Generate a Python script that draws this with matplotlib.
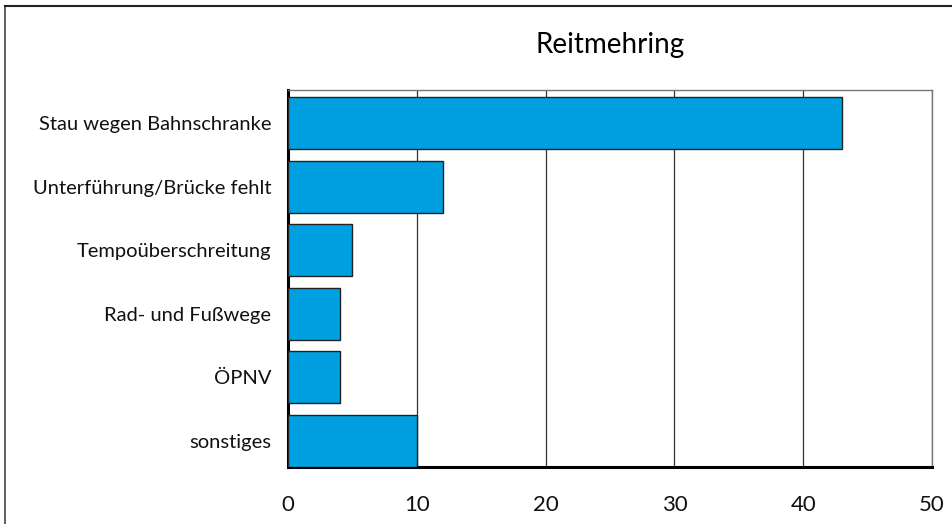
import matplotlib
matplotlib.use("Agg")
import matplotlib.pyplot as plt
from matplotlib.lines import Line2D

categories = ["Stau wegen Bahnschranke", "Unterführung/Brücke fehlt", "Tempoüberschreitung",
              "Rad- und Fußwege", "ÖPNV", "sonstiges"]
values = [43, 12, 5, 4, 4, 10]
xticks = [0, 10, 20, 30, 40, 50]
title = "Reitmehring"

plt.rcParams['font.family'] = ['Lato', 'DejaVu Sans']

W, H = 953, 524
fig = plt.figure(figsize=(W / 100, H / 100), dpi=100)
ax = fig.add_axes([288 / W, 1 - 467 / H, (932 - 288) / W, (467 - 90) / H])

ypos = list(range(len(categories)))
ax.barh(ypos, values, height=0.82, color="#00A0E0", edgecolor="#222222", linewidth=1.0, zorder=3)
ax.set_ylim(5.41, -0.52)
ax.set_xlim(0, 50)
ax.set_xticks(xticks)
ax.set_xticklabels([str(t) for t in xticks], fontsize=16, fontweight="normal", color="#111111")
ax.set_yticks(ypos)
ax.set_yticklabels(categories, fontsize=14.5, fontweight="normal", color="#111111")
ax.tick_params(axis='both', length=0)
ax.tick_params(axis='x', pad=20)
ax.tick_params(axis='y', pad=12)
ax.xaxis.grid(True, color="#333333", linewidth=0.9, zorder=0)
ax.set_axisbelow(True)
for s in ["left", "bottom"]:
    ax.spines[s].set_linewidth(2.2)
    ax.spines[s].set_color("black")
for s in ["top", "right"]:
    ax.spines[s].set_linewidth(1.0)
    ax.spines[s].set_color("#777777")

fig.text(610 / W, 1 - 45 / H, title, ha="center", va="center", fontsize=20)

fig.add_artist(Line2D([5 / W, 5 / W], [0, 1 - 6 / H], transform=fig.transFigure, color="#444444", linewidth=1.2))
fig.add_artist(Line2D([5 / W, 1], [1 - 6 / H, 1 - 6 / H], transform=fig.transFigure, color="#222222", linewidth=1.5))

fig.savefig("out.png", dpi=100)
